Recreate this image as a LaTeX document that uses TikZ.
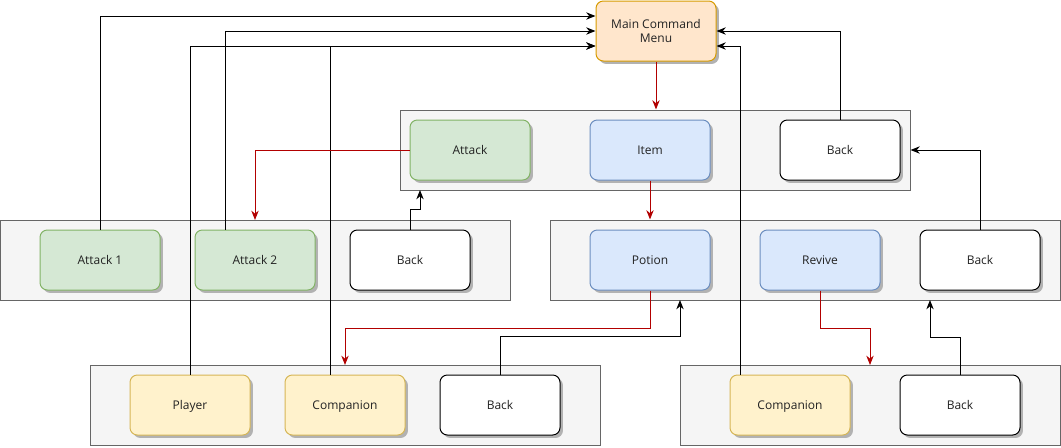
\documentclass[tikz,border=0pt]{standalone}
\usepackage{fontspec}
\setmainfont{Open Sans}
\usetikzlibrary{arrows.meta,shadows,calc}
\definecolor{grpfill}{HTML}{F5F5F5}
\definecolor{grpline}{HTML}{666666}
\definecolor{gfill}{HTML}{D5E8D4}\definecolor{gline}{HTML}{82B366}
\definecolor{bfill}{HTML}{DAE8FC}\definecolor{bline}{HTML}{6C8EBF}
\definecolor{yfill}{HTML}{FFF2CC}\definecolor{yline}{HTML}{D6B656}
\definecolor{ofill}{HTML}{FFE6CC}\definecolor{oline}{HTML}{D79B00}
\definecolor{redline}{HTML}{B20000}
\definecolor{txt}{HTML}{222222}
\tikzset{
  grp/.style={draw=grpline, fill=grpfill, line width=0.75pt, minimum width=382.5pt, minimum height=60pt, inner sep=0pt},
  basebox/.style={rounded corners=5.5pt, line width=0.75pt, minimum width=90pt, minimum height=45pt, inner sep=0pt,
    font=\fontsize{9}{11}\selectfont, text=txt, align=center,
    drop shadow={shadow xshift=2.2pt, shadow yshift=-2.2pt, fill=black!30, opacity=1}},
  box/.style={basebox, text height=8.2pt, text depth=1.6pt},
  gbox/.style={box, draw=gline, fill=gfill},
  bbox/.style={box, draw=bline, fill=bfill},
  ybox/.style={box, draw=yline, fill=yfill},
  obox/.style={basebox, draw=oline, fill=ofill},
  wbox/.style={box, draw=black, fill=white},
  arr/.style={draw=black, line width=0.75pt, -{Stealth[length=7pt,width=5.5pt]}},
  rarr/.style={draw=redline, line width=0.75pt, -{Stealth[length=7pt,width=5.5pt]}},
}
\begin{document}
\begin{tikzpicture}[x=0.75pt,y=-0.75pt]
\useasboundingbox (0,0) rectangle (1061,447);
% containers
\node[grp] (c1) at (655,150) {};
\node[grp] (c2) at (255,260) {};
\node[grp] (c3) at (805,260) {};
\node[grp] (c4) at (345,405) {};
\node[grp, minimum width=285pt] (c5) at (870,405) {};
% nodes
\node[obox] (main) at (656,31) {Main Command\\Menu};
\node[gbox] (attack) at (470,150) {Attack};
\node[bbox] (item) at (650,150) {Item};
\node[wbox] (back1) at (840,150) {Back};
\node[gbox] (a1) at (100,260) {Attack 1};
\node[gbox] (a2) at (255,260) {Attack 2};
\node[wbox] (back2) at (410,260) {Back};
\node[bbox] (potion) at (650,260) {Potion};
\node[bbox] (revive) at (820,260) {Revive};
\node[wbox] (back3) at (980,260) {Back};
\node[ybox] (player) at (190,405) {Player};
\node[ybox] (comp1) at (345,405) {Companion};
\node[wbox] (back4) at (500,405) {Back};
\node[ybox] (comp2) at (790,405) {Companion};
\node[wbox] (back5) at (960,405) {Back};
% target coordinates on containers
\coordinate (c1in) at (420,190);
\coordinate (c2in) at (255,220);
\coordinate (c3inA) at (680,300);
\coordinate (c3inB) at (930,300);
\coordinate (c4in) at (345,365);
\coordinate (c5in) at (870,365);
% black connectors to main
\draw[arr] (a1.north) |- ([yshift=11.25pt]main.west);
\draw[arr] ([xshift=-22.5pt]a2.north) |- (main.west);
\draw[arr] (player.north) |- ([yshift=-11.25pt]main.west);
\draw[arr] ([xshift=-11.25pt]comp1.north) |- ([yshift=-11.25pt]main.west);
\draw[arr] (back1.north) |- (main.east);
\draw[arr] ([xshift=-37.5pt]comp2.north) |- ([yshift=-11.25pt]main.east);
% black back connectors
\draw[arr] (back2.north) -- ++(0,-20) -| (c1in);
\draw[arr] (back3.north) |- (c1.east);
\draw[arr] (back4.north) -- ++(0,-38) -| (c3inA);
\draw[arr] (back5.north) -- ++(0,-37) -| (c3inB);
% red connectors
\draw[rarr] (main.south) -- (main.south |- c1.north);
\draw[rarr] (attack.west) -| (c2in);
\draw[rarr] (item.south) -- (item.south |- c3.north);
\draw[rarr] (potion.south) -- ++(0,38) -| (c4in);
\draw[rarr] (revive.south) -- ++(0,38) -| (c5in);
\end{tikzpicture}
\end{document}
